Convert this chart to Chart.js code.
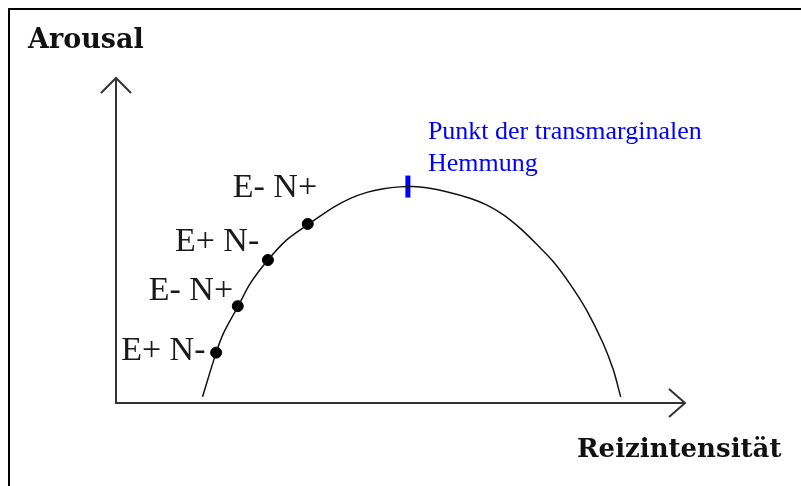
<!DOCTYPE html>
<html>
<head>
<meta charset="utf-8">
<script src="https://cdn.jsdelivr.net/npm/chart.js@4/dist/chart.umd.min.js"></script>
<style>
  body { margin: 0; background: #fff; }
  #wrap { position: relative; width: 801px; height: 486px; }
  #frame { position: absolute; left: 8px; top: 8px; right: 0; bottom: 0;
           border-left: 2px solid #000; border-top: 2px solid #000; pointer-events: none; }
</style>
</head>
<body>
<div id="wrap">
  <canvas id="c" width="801" height="486"></canvas>
  <div id="frame"></div>
</div>
<script>
// arousal curve (units: 0..100 along each axis)
const curveX = [15.2, 17.6, 18.9, 21.5, 23.6, 26.7, 30.0, 33.8, 38.2, 41.1, 44.1, 47.0, 49.9, 52.2, 54.6, 58.1, 62.2, 65.2, 68.1, 71.0, 73.9, 76.9, 79.8, 82.7, 85.6, 87.4, 88.7];
const curveY = [1.9, 15.5, 21.5, 29.9, 36.8, 44.0, 50.2, 55.0, 60.2, 62.9, 64.8, 65.9, 66.5, 66.6, 66.2, 65.0, 63.0, 60.9, 57.9, 53.8, 48.9, 43.4, 36.6, 28.6, 18.4, 10.2, 1.9];

const stateX = [17.6, 21.4, 26.7, 33.7];
const stateY = [15.5, 29.8, 44.0, 55.1];
const stateLabels = ['E+ N-', 'E- N+', 'E+ N-', 'E- N+'];

const peakX = [51.3];
const peakY = [66.6];
const peakLabel = ['Punkt der transmarginalen', 'Hemmung'];

const yTitle = 'Arousal';
const xTitle = 'Reizintensität';

const toPts = (xs, ys) => xs.map((x, i) => ({ x: x, y: ys[i] }));

// axes with open arrow heads + the text pieces
const drawExtras = {
  id: 'drawExtras',
  afterDatasetsDraw(chart) {
    const { ctx, scales: { x, y } } = chart;
    const x0 = x.getPixelForValue(0), y0 = y.getPixelForValue(0);
    const xt = x.getPixelForValue(100), yt = y.getPixelForValue(100);
    ctx.save();
    ctx.strokeStyle = '#333';
    ctx.lineWidth = 2;
    ctx.beginPath();
    ctx.moveTo(x0, yt); ctx.lineTo(x0, y0); ctx.lineTo(xt, y0);
    // arrow heads
    ctx.moveTo(x0 - 15, yt + 15); ctx.lineTo(x0, yt); ctx.lineTo(x0 + 15, yt + 15);
    ctx.moveTo(xt - 16, y0 - 14); ctx.lineTo(xt, y0); ctx.lineTo(xt - 16, y0 + 14);
    ctx.stroke();

    ctx.fillStyle = '#111';
    ctx.textBaseline = 'alphabetic';
    ctx.textAlign = 'left';
    ctx.font = 'bold 27px "DejaVu Serif"';
    ctx.fillText(yTitle, 28, 48);
    ctx.font = 'bold 26px "DejaVu Serif"';
    ctx.fillText(xTitle, 577, 457);

    // state labels next to the dots
    const offs = [[-95, 7], [-89, -6], [-93, -9], [-75, -27]];
    const meta = chart.getDatasetMeta(1);
    ctx.font = '34px "Liberation Serif"';
    ctx.fillStyle = '#1a1a1a';
    meta.data.forEach((pt, i) => {
      ctx.fillText(stateLabels[i], pt.x + offs[i][0], pt.y + offs[i][1]);
    });

    // blue note at the peak
    const pk = chart.getDatasetMeta(2).data[0];
    ctx.font = '26px "Liberation Serif"';
    ctx.fillStyle = '#0000ff';
    ctx.fillText(peakLabel[0], pk.x + 20, pk.y - 48);
    ctx.fillText(peakLabel[1], pk.x + 20, pk.y - 16);
    ctx.restore();
  }
};

new Chart(document.getElementById('c'), {
  type: 'scatter',
  data: {
    datasets: [
      { data: toPts(curveX, curveY), showLine: true, borderColor: '#111', borderWidth: 1.5,
        pointRadius: 0, tension: 0.3, clip: false },
      { data: toPts(stateX, stateY), pointRadius: 5.5, backgroundColor: '#000', borderColor: '#000', clip: false },
      { data: toPts(peakX, peakY), pointStyle: 'line', rotation: 90, pointRadius: 11,
        borderColor: '#0000ff', borderWidth: 5, clip: false }
    ]
  },
  options: {
    responsive: false,
    animation: false,
    devicePixelRatio: 1,
    layout: { padding: { left: 116, right: 116, top: 78, bottom: 83 } },
    scales: {
      x: { min: 0, max: 100, display: false },
      y: { min: 0, max: 100, display: false }
    },
    plugins: { legend: { display: false }, tooltip: { enabled: false } }
  },
  plugins: [drawExtras]
});
</script>
</body>
</html>
